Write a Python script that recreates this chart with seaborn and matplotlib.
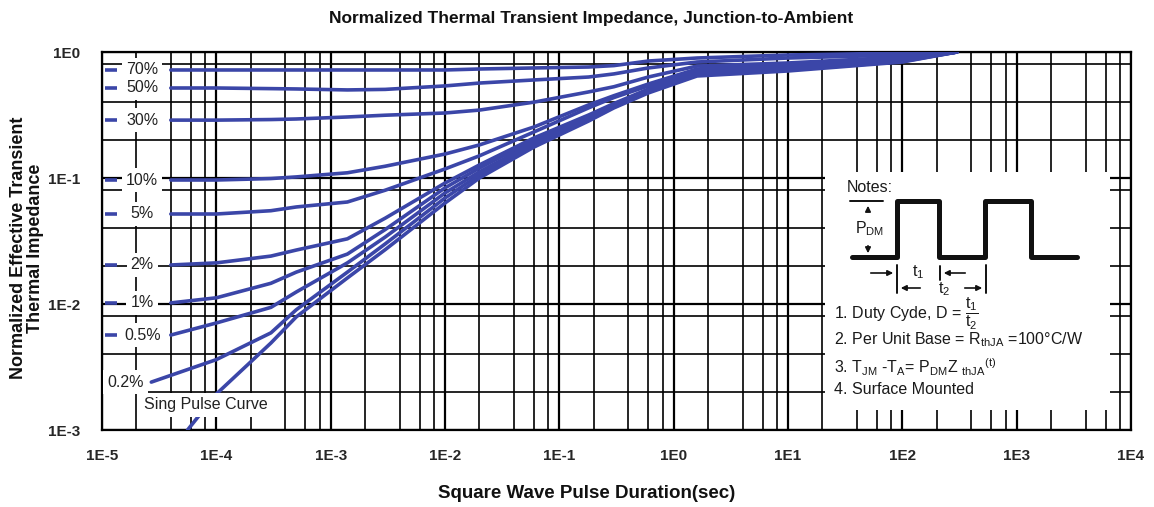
import matplotlib
matplotlib.use('Agg')
import pandas as pd
import matplotlib.pyplot as plt
import seaborn as sns
from matplotlib.ticker import FixedLocator, FixedFormatter, LogLocator, NullFormatter

t_read = [1e-4, 3e-4, 5e-4, 1.4e-3, 3e-3, 1e-2, 2e-2, 6e-2, 0.18, 0.3, 0.6, 1.6, 10, 100, 300]

# Normalized Zth for each duty cycle at t_read
z_70 = [0.72, 0.72, 0.72, 0.72, 0.72, 0.72, 0.733, 0.747, 0.76, 0.78, 0.848, 0.896, 0.947, 0.98, 1.0]
z_50 = [0.518, 0.512, 0.509, 0.50, 0.505, 0.538, 0.567, 0.60, 0.633, 0.67, 0.747, 0.833, 0.896, 0.947, 1.0]
z_30 = [0.288, 0.291, 0.294, 0.305, 0.315, 0.328, 0.346, 0.40, 0.482, 0.53, 0.633, 0.774, 0.818, 0.913, 1.0]
z_10 = [0.0964, 0.099, 0.102, 0.11, 0.124, 0.155, 0.183, 0.254, 0.38, 0.45, 0.557, 0.733, 0.789, 0.896, 1.0]
z_5 = [0.0518, 0.055, 0.0589, 0.0645, 0.08, 0.118, 0.15, 0.232, 0.36, 0.435, 0.538, 0.72, 0.774, 0.88, 1.0]
z_2 = [0.0212, 0.024, 0.0268, 0.0329, 0.048, 0.0912, 0.127, 0.208, 0.316, 0.39, 0.508, 0.694, 0.76, 0.87, 1.0]
z_1 = [0.0112, 0.0146, 0.0179, 0.0249, 0.039, 0.0835, 0.12, 0.20, 0.305, 0.38, 0.50, 0.681, 0.747, 0.86, 1.0]
z_05 = [0.00707, 0.0094, 0.01245, 0.0212, 0.034, 0.0761, 0.112, 0.19, 0.30, 0.375, 0.49, 0.669, 0.733, 0.85, 1.0]
z_02 = [0.00362, 0.0059, 0.0090, 0.0179, 0.030, 0.0694, 0.106, 0.183, 0.288, 0.365, 0.482, 0.657, 0.72, 0.84, 1.0]
z_single = [0.00193, 0.0049, 0.0079, 0.0161, 0.027, 0.0633, 0.10, 0.176, 0.283, 0.36, 0.473, 0.645, 0.707, 0.833, 1.0]

duty_labels = ['70%', '50%', '30%', '10%', '5%', '2%', '1%', '0.5%', '0.2%', 'Sing Pulse Curve']
# first point of every curve (left end)
start_t = [4e-5, 4e-5, 4e-5, 4e-5, 4e-5, 4e-5, 4e-5, 4e-5, 2.7e-5, 5.6e-5]
start_z = [0.72, 0.518, 0.288, 0.0964, 0.0518, 0.0204, 0.0102, 0.00567, 0.0024, 0.001]

x_ticks = [1e-5, 1e-4, 1e-3, 1e-2, 1e-1, 1e0, 1e1, 1e2, 1e3, 1e4]
x_ticklabels = ['1E-5', '1E-4', '1E-3', '1E-2', '1E-1', '1E0', '1E1', '1E2', '1E3', '1E4']
y_ticks = [1e-3, 1e-2, 1e-1, 1e0]
y_ticklabels = ['1E-3', '1E-2', '1E-1', '1E0']

curves = [z_70, z_50, z_30, z_10, z_5, z_2, z_1, z_05, z_02, z_single]

rows = []
for lab, t0, z0, zs in zip(duty_labels, start_t, start_z, curves):
    rows.append((lab, t0, z0))
    for t, z in zip(t_read, zs):
        rows.append((lab, t, z))
df = pd.DataFrame(rows, columns=['duty', 't', 'z'])

sns.set_style('white')
plt.rcParams['font.family'] = ['Liberation Sans', 'DejaVu Sans']
plt.rcParams['mathtext.default'] = 'regular'

W, H = 1154, 507
fig = plt.figure(figsize=(W / 100, H / 100), dpi=100)
ax = fig.add_axes([102 / W, 1 - 430 / H, (1131 - 102) / W, (430 - 52) / H])

blue = '#3b46a8'
sns.lineplot(data=df, x='t', y='z', hue='duty', palette=[blue] * len(duty_labels),
             estimator=None, sort=False, legend=False, linewidth=2.6, ax=ax, zorder=4)

ax.set_xscale('log')
ax.set_yscale('log')
ax.set_xlim(1e-5, 1e4)
ax.set_ylim(1e-3, 1e0)

# graph-paper grid
ax.xaxis.set_major_locator(FixedLocator(x_ticks))
ax.xaxis.set_major_formatter(FixedFormatter(x_ticklabels))
ax.yaxis.set_major_locator(FixedLocator(y_ticks))
ax.yaxis.set_major_formatter(FixedFormatter(y_ticklabels))
ax.xaxis.set_minor_locator(LogLocator(base=10, subs=(2, 4, 6, 8), numticks=30))
ax.yaxis.set_minor_locator(LogLocator(base=10, subs=(2, 4, 8), numticks=30))
ax.xaxis.set_minor_formatter(NullFormatter())
ax.yaxis.set_minor_formatter(NullFormatter())
ax.grid(which='major', color='black', linewidth=1.6)
ax.grid(which='minor', color='black', linewidth=1.2)
ax.tick_params(which='both', length=0)
ax.tick_params(axis='x', pad=14, labelsize=11)
ax.tick_params(axis='y', pad=16, labelsize=11)
for lbl in ax.get_xticklabels() + ax.get_yticklabels():
    lbl.set_fontweight('bold')
for s in ax.spines.values():
    s.set_color('black')
    s.set_linewidth(1.6)
ax.set_xlabel('')
ax.set_ylabel('')

# curve labels on the left
lab_fs = 11.5
for lab, t0, z0 in zip(duty_labels[:8], start_t[:8], start_z[:8]):
    ax.plot([1.07e-5, 1.35e-5], [z0, z0], color=blue, lw=2.6, zorder=5, solid_capstyle='butt')
    ax.text(2.25e-5, z0, lab, ha='center', va='center', fontsize=lab_fs, color='#222222', zorder=5,
            bbox=dict(facecolor='white', edgecolor='none', pad=3))
ax.text(1.6e-5, start_z[8], duty_labels[8], ha='center', va='center', fontsize=lab_fs,
        color='#222222', zorder=5, bbox=dict(facecolor='white', edgecolor='none', pad=3))
ax.text(2.35e-5, 0.00158, duty_labels[9], ha='left', va='center', fontsize=lab_fs,
        color='#222222', zorder=5, bbox=dict(facecolor='white', edgecolor='none', pad=3))

# notes box
def fx(px):
    return px / W


def fy(py):
    return 1 - py / H


fig.patches.append(plt.Rectangle((fx(825), fy(410)), fx(1110) - fx(825), fy(172) - fy(410),
                                 transform=fig.transFigure, facecolor='white', edgecolor='none',
                                 zorder=3))
note_fs = 11.5
kw = dict(transform=fig.transFigure, zorder=6, color='#1a1a1a')
fig.text(fx(847), fy(187), 'Notes:', ha='left', va='center', fontsize=note_fs, **kw)
px_wave = [852, 897, 897, 939, 939, 985, 985, 1031, 1031, 1077]
py_wave = [257, 257, 201, 201, 257, 257, 201, 201, 257, 257]
fig.add_artist(plt.Line2D([fx(p) for p in px_wave], [fy(p) for p in py_wave],
                          transform=fig.transFigure, color='#111111', lw=3.6, zorder=6))
fig.add_artist(plt.Line2D([fx(850), fx(883)], [fy(201), fy(201)], transform=fig.transFigure,
                          color='#111111', lw=1.4, zorder=6))
arrow = dict(arrowstyle='-|>', color='#111111', lw=1.2, mutation_scale=8)
fig.add_artist(matplotlib.patches.FancyArrowPatch((fx(868), fy(214)), (fx(868), fy(203)),
                                                  transform=fig.transFigure, zorder=6, **arrow))
fig.add_artist(matplotlib.patches.FancyArrowPatch((fx(868), fy(243)), (fx(868), fy(256)),
                                                  transform=fig.transFigure, zorder=6, **arrow))
fig.text(fx(870), fy(229), r'P$_{DM}$', ha='center', va='center', fontsize=note_fs, **kw)
for x0, y0, y1 in [(897, 265, 293), (940, 266, 280), (986, 265, 293)]:
    fig.add_artist(plt.Line2D([fx(x0), fx(x0)], [fy(y0), fy(y1)], transform=fig.transFigure,
                              color='#111111', lw=1.4, zorder=6))
for a, b, yy in [(868, 896, 273), (968, 941, 273), (923, 898, 288), (962, 985, 288)]:
    fig.add_artist(matplotlib.patches.FancyArrowPatch((fx(a), fy(yy)), (fx(b), fy(yy)),
                                                      transform=fig.transFigure, zorder=6, **arrow))
fig.text(fx(918), fy(272), r't$_1$', ha='center', va='center', fontsize=note_fs, **kw)
fig.text(fx(944), fy(289), r't$_2$', ha='center', va='center', fontsize=note_fs, **kw)

fig.text(fx(834), fy(314), r'1. Duty Cyde, D = $\dfrac{t_1}{t_2}$', ha='left', va='center',
         fontsize=note_fs, **kw)
fig.text(fx(834), fy(340), '2. Per Unit Base = R$_{thJA}$ =100°C/W', ha='left', va='center',
         fontsize=note_fs, **kw)
fig.text(fx(834), fy(367), r'3. T$_{JM}$ -T$_A$= P$_{DM}$Z $_{thJA}$$^{(t)}$', ha='left',
         va='center', fontsize=note_fs, **kw)
fig.text(fx(834), fy(390), '4. Surface Mounted', ha='left', va='center', fontsize=note_fs, **kw)

# titles
fig.text(fx(591), fy(18), 'Normalized Thermal Transient Impedance, Junction-to-Ambient',
         ha='center', va='center', fontsize=12.5, fontweight='bold', color='#111111')
fig.text(fx(587), fy(493), 'Square Wave Pulse Duration(sec)', ha='center', va='center',
         fontsize=13.5, fontweight='bold', color='#111111')
fig.text(fx(27), fy(248), 'Normalized Effective Transient\nThermal Impedance', ha='center',
         va='center', rotation=90, fontsize=13, fontweight='bold', color='#111111',
         linespacing=1.0)

fig.savefig('out.png', dpi=100)
